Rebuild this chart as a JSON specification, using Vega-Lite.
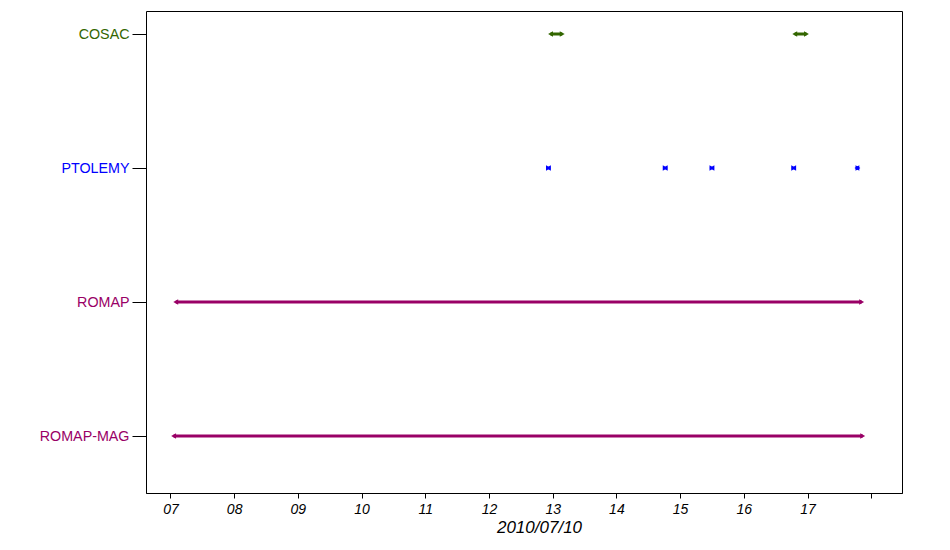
{
  "$schema": "https://vega.github.io/schema/vega-lite/v6.json",
  "width": 756,
  "height": 482,
  "autosize": {"type": "none"},
  "padding": {"left": 146, "top": 11, "right": 48, "bottom": 57},
  "background": "white",
  "config": {
    "view": {"stroke": "black", "strokeWidth": 1}
  },
  "data": {
    "values": [
      {"instrument": "COSAC", "start": "2010-07-10T12:58:00", "end": "2010-07-10T13:09:00"},
      {"instrument": "COSAC", "start": "2010-07-10T16:48:00", "end": "2010-07-10T16:59:00"},
      {"instrument": "PTOLEMY", "start": "2010-07-10T12:56:00", "end": "2010-07-10T12:56:00"},
      {"instrument": "PTOLEMY", "start": "2010-07-10T14:46:00", "end": "2010-07-10T14:46:00"},
      {"instrument": "PTOLEMY", "start": "2010-07-10T15:30:00", "end": "2010-07-10T15:30:00"},
      {"instrument": "PTOLEMY", "start": "2010-07-10T16:47:00", "end": "2010-07-10T16:47:00"},
      {"instrument": "PTOLEMY", "start": "2010-07-10T17:46:30", "end": "2010-07-10T17:47:30"},
      {"instrument": "ROMAP", "start": "2010-07-10T07:05:00", "end": "2010-07-10T17:51:00"},
      {"instrument": "ROMAP-MAG", "start": "2010-07-10T07:03:00", "end": "2010-07-10T17:52:00"}
    ]
  },
  "encoding": {
    "y": {
      "field": "instrument",
      "type": "nominal",
      "scale": {"type": "point", "domain": ["COSAC", "PTOLEMY", "ROMAP", "ROMAP-MAG"], "range": [23, 425], "padding": 0},
      "axis": {
        "title": null,
        "domain": false,
        "tickSize": 14,
        "tickColor": "black",
        "labelPadding": 3,
        "labelFont": "Liberation Sans",
        "labelFontSize": 14.3,
        "labelColor": {
          "condition": [
            {"test": "datum.value == 'COSAC'", "value": "#336600"},
            {"test": "datum.value == 'PTOLEMY'", "value": "#0000ff"}
          ],
          "value": "#990066"
        }
      }
    },
    "color": {
      "field": "instrument",
      "type": "nominal",
      "scale": {"domain": ["COSAC", "PTOLEMY", "ROMAP", "ROMAP-MAG"], "range": ["#336600", "#0000ff", "#990066", "#990066"]},
      "legend": null
    }
  },
  "layer": [
    {
      "mark": {"type": "rule", "strokeWidth": 3},
      "encoding": {
        "x": {
          "field": "start",
          "type": "temporal",
          "scale": {"domain": [
            {"year": 2010, "month": 7, "date": 10, "hours": 6, "minutes": 37},
            {"year": 2010, "month": 7, "date": 10, "hours": 18, "minutes": 29}
          ]},
          "axis": {
            "title": "2010/07/10",
            "titleFont": "Liberation Sans",
            "titleFontSize": 17,
            "titleFontStyle": "italic",
            "titleFontWeight": "normal",
            "titleColor": "black",
            "titlePadding": 3,
            "titleX": 393,
            "titleAnchor": "middle",
            "domainColor": "black",
            "tickColor": "black",
            "tickSize": 5,
            "labelPadding": 4,
            "labelFont": "Liberation Sans",
            "labelFontSize": 14,
            "labelFontStyle": "italic",
            "labelColor": "black",
            "grid": false,
            "tickCount": 12,
            "labelExpr": "hours(datum.value) == 18 ? '' : timeFormat(datum.value, '%H')"
          }
        },
        "x2": {"field": "end"}
      }
    },
    {
      "mark": {"type": "point", "shape": "triangle-left", "filled": true, "size": 32, "opacity": 1},
      "encoding": {"x": {"field": "start", "type": "temporal"}}
    },
    {
      "mark": {"type": "point", "shape": "triangle-right", "filled": true, "size": 32, "opacity": 1},
      "encoding": {"x": {"field": "end", "type": "temporal"}}
    }
  ]
}
